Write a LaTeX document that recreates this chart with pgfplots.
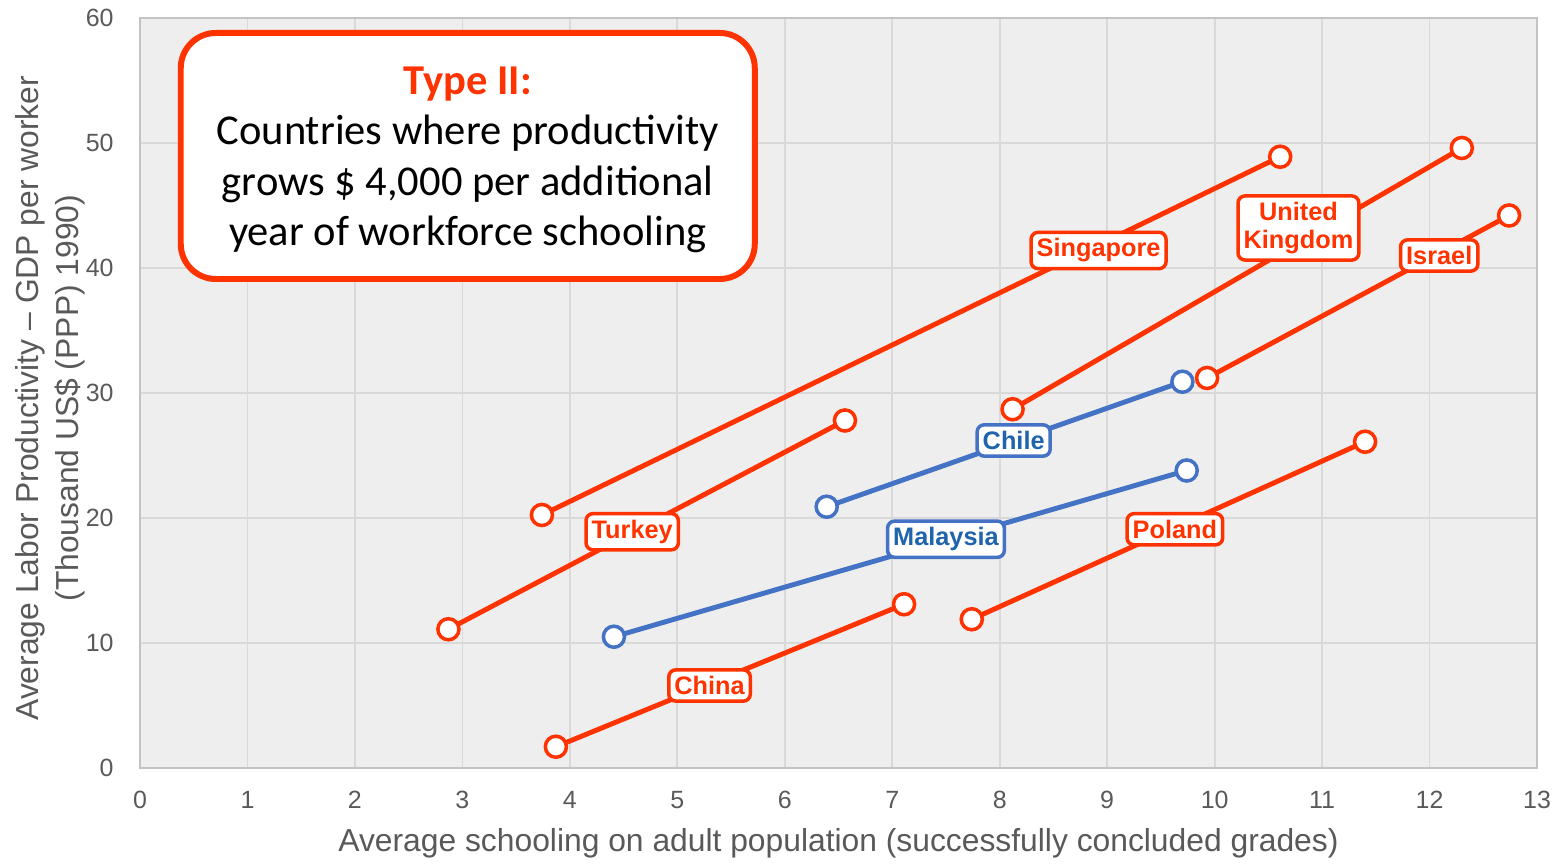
\documentclass[border=0pt]{standalone}
\usepackage{pgfplots}
\pgfplotsset{compat=1.18}
\usepackage{fontspec}
\setmainfont{Liberation Sans}
\newfontfamily\calibri{Carlito}

\definecolor{ored}{HTML}{FF3300}
\definecolor{lblue}{HTML}{4472C4}
\definecolor{tblue}{HTML}{1F64AC}
\definecolor{plotbg}{HTML}{EEEEEE}
\definecolor{gridc}{HTML}{D9D9D9}
\definecolor{ticktxt}{HTML}{595959}

\tikzset{
  tag/.style={draw=#1, line width=1pt, fill=white, rounded corners=2pt,
    inner xsep=1.6pt, inner ysep=1.8pt, align=center,
    font=\fontsize{7.2}{7.9}\selectfont\bfseries},
}

\begin{document}
\begin{tikzpicture}
\begin{axis}[
  scale only axis,
  width=13.97cm, height=7.5cm,
  xmin=0, xmax=13, ymin=0, ymax=60,
  xtick={0,...,13}, ytick={0,10,...,60},
  grid=major,
  major grid style={gridc, line width=0.5pt},
  axis background/.style={fill=plotbg},
  axis line style={gridc!90!black},
  tick style={draw=none},
  ticklabel style={font=\fontsize{7.1}{8}\selectfont, text=ticktxt},
  xticklabel style={yshift=-0.11cm},
  yticklabel style={xshift=-0.14cm},
  /pgf/number format/assume math mode=true,
  xlabel={Average schooling on adult population (successfully concluded grades)},
  ylabel={Average Labor Productivity – GDP per worker\\(Thousand US\$ (PPP) 1990)},
  label style={font=\fontsize{9.05}{11.4}\selectfont, text=ticktxt},
  xlabel style={at={(axis description cs:0.5,-0.1)}, anchor=center},
  ylabel style={at={(axis description cs:-0.0645,0.493)}, anchor=center, align=center},
  every axis plot/.append style={line width=1.4pt, mark=*, mark size=3pt,
    mark options={solid, fill=white, line width=1pt}},
  clip=false,
]
% Type II countries
\addplot[ored] coordinates {(3.74,20.24) (10.61,48.9)};  % Singapore
\addplot[ored] coordinates {(8.12,28.7) (12.30,49.6)};   % United Kingdom
\addplot[ored] coordinates {(9.93,31.2) (12.74,44.2)};   % Israel
\addplot[ored] coordinates {(2.87,11.1) (6.56,27.8)};    % Turkey
\addplot[lblue] coordinates {(6.39,20.9) (9.70,30.9)};   % Chile
\addplot[lblue] coordinates {(4.41,10.5) (9.74,23.8)};   % Malaysia
\addplot[ored] coordinates {(3.87,1.7) (7.11,13.1)};     % China
\addplot[ored] coordinates {(7.74,11.9) (11.40,26.1)};   % Poland

\node[tag=ored, text=ored] at (axis cs:8.92,41.4) {Singapore};
\node[tag=ored, text=ored] at (axis cs:10.78,43.2) {United\\Kingdom};
\node[tag=ored, text=ored] at (axis cs:12.09,41.0) {Israel};
\node[tag=ored, text=ored] at (axis cs:4.58,18.9) {Turkey};
\node[tag=lblue, text=tblue] at (axis cs:8.13,26.2) {Chile};
\node[tag=lblue, text=tblue] at (axis cs:7.50,18.3) {Malaysia};
\node[tag=ored, text=ored] at (axis cs:5.30,6.6) {China};
\node[tag=ored, text=ored] at (axis cs:9.63,19.1) {Poland};

\node[draw=ored, line width=1.7pt, fill=white, rounded corners=0.35cm,
  minimum width=5.74cm, minimum height=2.46cm] at (axis cs:3.05,48.96) {};
\node[align=center, font=\calibri\fontsize{12.1}{14.4}\selectfont]
  at (axis cs:3.05,48.65)
  {{\bfseries\color{ored}Type II:}\\Countries where productivity\\grows \$ 4,000 per additional\\year of workforce schooling};
\end{axis}
\path (current axis.south west) ++(-1.40cm,-0.97cm) coordinate (bl);
\path (current axis.north east) ++(0.23cm,0.18cm) coordinate (tr);
\pgfresetboundingbox
\path (bl) rectangle (tr);
\end{tikzpicture}
\end{document}
